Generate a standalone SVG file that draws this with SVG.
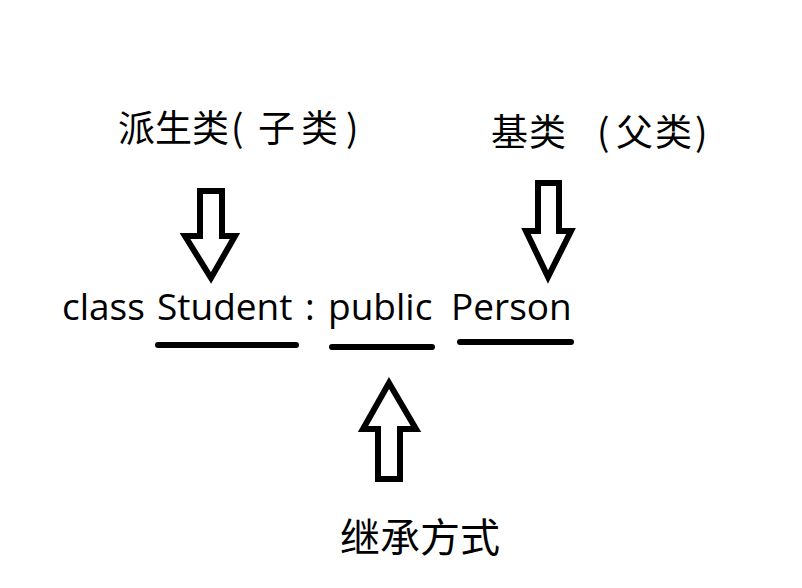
<svg xmlns="http://www.w3.org/2000/svg" width="802" height="588" viewBox="0 0 802 588">
<style>
.cjk{font-family:"Noto Sans CJK SC","Noto Sans",sans-serif;fill:#000}
.code{font-family:"Open Sans","Liberation Sans",sans-serif;font-size:37px;fill:#000}
.arrow{fill:#fff;stroke:#000;stroke-width:6;stroke-linejoin:miter}
.ul{stroke:#000;stroke-width:6;stroke-linecap:round}
</style>
<rect width="802" height="588" fill="#fff"/>
<g id="label-derived">
<text class="cjk" font-size="37" y="142"><tspan x="118">派</tspan><tspan x="155">生</tspan><tspan x="192">类</tspan><tspan x="231">(</tspan><tspan x="258">子</tspan><tspan x="301">类</tspan><tspan x="346">)</tspan></text>
</g>
<g id="label-base">
<text class="cjk" font-size="37" y="146"><tspan x="491">基</tspan><tspan x="529">类</tspan><tspan x="597">(</tspan><tspan x="616">父</tspan><tspan x="655">类</tspan><tspan x="695">)</tspan></text>
</g>
<g id="code">
<text class="code" y="320"><tspan x="62">class</tspan><tspan x="157">Student</tspan><tspan x="305">:</tspan><tspan x="328">public</tspan><tspan x="451">Person</tspan></text>
</g>
<g id="label-mode">
<text class="cjk" font-size="40" x="340" y="552">继承方式</text>
</g>
<g id="connectors">
<path class="arrow" d="M200,191 H222 V236 H235 L211,278 L185,236 H200 Z"/>
<path class="arrow" d="M538,183 H559 V231 H571 L548,277 L526,231 H538 Z"/>
<path class="arrow" d="M389,383 L416,429 H400 V479 H378 V429 H363 Z"/>
<line class="ul" x1="158" y1="345" x2="296" y2="345"/>
<line class="ul" x1="332" y1="347" x2="432" y2="347"/>
<line class="ul" x1="460" y1="342" x2="571" y2="342"/>
</g>
</svg>
